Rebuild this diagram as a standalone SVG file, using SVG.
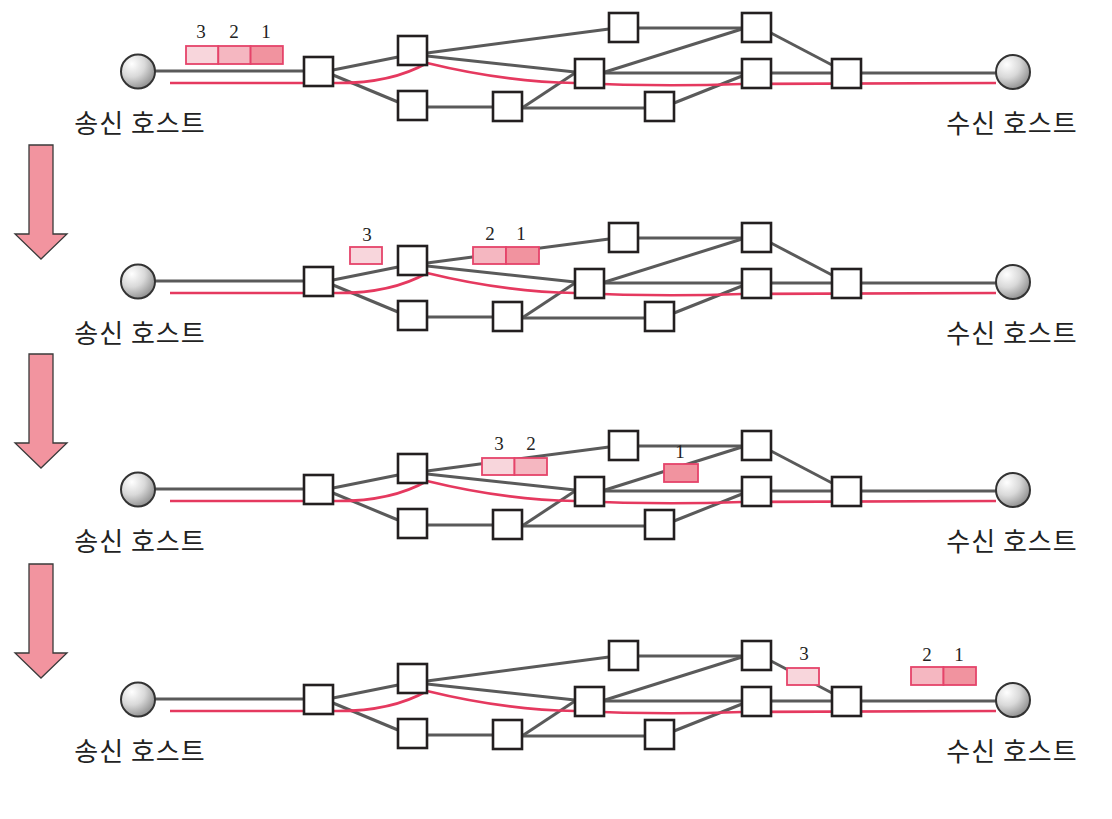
<svg xmlns="http://www.w3.org/2000/svg" width="1112" height="819" viewBox="0 0 1112 819">
<defs>
<radialGradient id="hostGrad" cx="0.32" cy="0.28" r="0.85">
<stop offset="0" stop-color="#ffffff"/>
<stop offset="0.45" stop-color="#d9d9d9"/>
<stop offset="1" stop-color="#808080"/>
</radialGradient>
<style>
.edge{fill:none;stroke:#5a5a5a;stroke-width:3;stroke-linecap:butt}
.path{fill:none;stroke:#e5395f;stroke-width:2.6}
.node{fill:#ffffff;stroke:#231f20;stroke-width:2.6}
.host{fill:url(#hostGrad);stroke:#333333;stroke-width:2}
.pk{stroke:#e5446a;stroke-width:1.8}
.p3{fill:#f8d6dc}
.p2{fill:#f5b7c1}
.p1{fill:#f1939f}
.num{font-family:"Liberation Serif","Noto Sans",serif;font-size:19px;fill:#222;text-anchor:middle}
.lbl{font-family:"Noto Sans CJK KR","Noto Sans",sans-serif;font-size:26px;letter-spacing:1px;fill:#222;text-anchor:middle}
.arrow{fill:#f2949f;stroke:#3a3a3a;stroke-width:1.3;stroke-linejoin:miter}
</style>
</defs>
<rect width="1112" height="819" fill="#ffffff"/>

<!-- arrows -->
<g id="arrows">
<path class="arrow" d="M29,145 H53 V234 H67 L41,259 L15,234 H29 Z"/>
<path class="arrow" d="M29,354 H53 V443 H67 L41,468 L15,443 H29 Z"/>
<path class="arrow" d="M29,564 H53 V653 H67 L41,678 L15,653 H29 Z"/>
</g>

<!-- PANEL 1 -->
<g id="panel1">
<g id="p1-connectors">
<path class="edge" d="M155,71 H304"/>
<path class="edge" d="M333,70 L398,57"/>
<path class="edge" d="M333,75 L398,102"/>
<path class="edge" d="M427,53 L609,29"/>
<path class="edge" d="M427,56 L575,72"/>
<path class="edge" d="M427,107 H493"/>
<path class="edge" d="M522,108 L578,71"/>
<path class="edge" d="M523,108 H645"/>
<path class="edge" d="M639,28 H742"/>
<path class="edge" d="M605,72 L742,29"/>
<path class="edge" d="M605,73 H742"/>
<path class="edge" d="M674,103 L742,76"/>
<path class="edge" d="M771,33 L832,65"/>
<path class="edge" d="M771,73 H832"/>
<path class="edge" d="M861,73 H996"/>
<path class="path" d="M170,83 H333 Q390,84 427,63 Q505,82 575,83 Q660,87 742,84 L996,83"/>
</g>
<g id="p1-hostL"><circle class="host" cx="138" cy="71.5" r="17"/><text class="lbl" x="140" y="133">송신 호스트</text></g>
<g id="p1-hostR"><circle class="host" cx="1013" cy="72" r="17"/><text class="lbl" x="1012" y="133">수신 호스트</text></g>
<g id="p1-A"><rect class="node" x="304" y="57" width="29" height="29"/></g>
<g id="p1-B"><rect class="node" x="398" y="36" width="29" height="29"/></g>
<g id="p1-C"><rect class="node" x="398" y="91" width="29" height="29"/></g>
<g id="p1-D"><rect class="node" x="609" y="13" width="29" height="29"/></g>
<g id="p1-E"><rect class="node" x="742" y="13" width="29" height="29"/></g>
<g id="p1-F"><rect class="node" x="575" y="59" width="29" height="29"/></g>
<g id="p1-G"><rect class="node" x="742" y="59" width="29" height="29"/></g>
<g id="p1-H"><rect class="node" x="493" y="92" width="29" height="29"/></g>
<g id="p1-I"><rect class="node" x="645" y="92" width="29" height="29"/></g>
<g id="p1-J"><rect class="node" x="832" y="59" width="29" height="29"/></g>
<g id="p1-packets">
<rect class="pk p3" x="186" y="46" width="32.3" height="18"/>
<rect class="pk p2" x="218.3" y="46" width="32.3" height="18"/>
<rect class="pk p1" x="250.6" y="46" width="32.3" height="18"/>
<text class="num" x="201" y="38">3</text>
<text class="num" x="234" y="38">2</text>
<text class="num" x="266" y="38">1</text>
</g>
</g>

<!-- PANEL 2 -->
<g id="panel2" transform="translate(0,210)">
<g id="p2-connectors">
<path class="edge" d="M155,71 H304"/>
<path class="edge" d="M333,70 L398,57"/>
<path class="edge" d="M333,75 L398,102"/>
<path class="edge" d="M427,53 L609,29"/>
<path class="edge" d="M427,56 L575,72"/>
<path class="edge" d="M427,107 H493"/>
<path class="edge" d="M522,108 L578,71"/>
<path class="edge" d="M523,108 H645"/>
<path class="edge" d="M639,28 H742"/>
<path class="edge" d="M605,72 L742,29"/>
<path class="edge" d="M605,73 H742"/>
<path class="edge" d="M674,103 L742,76"/>
<path class="edge" d="M771,33 L832,65"/>
<path class="edge" d="M771,73 H832"/>
<path class="edge" d="M861,73 H996"/>
<path class="path" d="M170,83 H333 Q390,84 427,63 Q505,82 575,83 Q660,87 742,84 L996,83"/>
</g>
<g id="p2-hostL"><circle class="host" cx="138" cy="71.5" r="17"/><text class="lbl" x="140" y="133">송신 호스트</text></g>
<g id="p2-hostR"><circle class="host" cx="1013" cy="72" r="17"/><text class="lbl" x="1012" y="133">수신 호스트</text></g>
<g id="p2-A"><rect class="node" x="304" y="57" width="29" height="29"/></g>
<g id="p2-B"><rect class="node" x="398" y="36" width="29" height="29"/></g>
<g id="p2-C"><rect class="node" x="398" y="91" width="29" height="29"/></g>
<g id="p2-D"><rect class="node" x="609" y="13" width="29" height="29"/></g>
<g id="p2-E"><rect class="node" x="742" y="13" width="29" height="29"/></g>
<g id="p2-F"><rect class="node" x="575" y="59" width="29" height="29"/></g>
<g id="p2-G"><rect class="node" x="742" y="59" width="29" height="29"/></g>
<g id="p2-H"><rect class="node" x="493" y="92" width="29" height="29"/></g>
<g id="p2-I"><rect class="node" x="645" y="92" width="29" height="29"/></g>
<g id="p2-J"><rect class="node" x="832" y="59" width="29" height="29"/></g>
<g id="p2-packets">
<rect class="pk p3" x="350" y="37" width="32" height="17"/>
<rect class="pk p2" x="473" y="37" width="33" height="17"/>
<rect class="pk p1" x="506" y="37" width="33" height="17"/>
<text class="num" x="367" y="31">3</text>
<text class="num" x="490" y="30">2</text>
<text class="num" x="521" y="30">1</text>
</g>
</g>

<!-- PANEL 3 -->
<g id="panel3" transform="translate(0,418)">
<g id="p3-connectors">
<path class="edge" d="M155,71 H304"/>
<path class="edge" d="M333,70 L398,57"/>
<path class="edge" d="M333,75 L398,102"/>
<path class="edge" d="M427,53 L609,29"/>
<path class="edge" d="M427,56 L575,72"/>
<path class="edge" d="M427,107 H493"/>
<path class="edge" d="M522,108 L578,71"/>
<path class="edge" d="M523,108 H645"/>
<path class="edge" d="M639,28 H742"/>
<path class="edge" d="M605,72 L742,29"/>
<path class="edge" d="M605,73 H742"/>
<path class="edge" d="M674,103 L742,76"/>
<path class="edge" d="M771,33 L832,65"/>
<path class="edge" d="M771,73 H832"/>
<path class="edge" d="M861,73 H996"/>
<path class="path" d="M170,83 H333 Q390,84 427,63 Q505,82 575,83 Q660,87 742,84 L996,83"/>
</g>
<g id="p3-hostL"><circle class="host" cx="138" cy="71.5" r="17"/><text class="lbl" x="140" y="133">송신 호스트</text></g>
<g id="p3-hostR"><circle class="host" cx="1013" cy="72" r="17"/><text class="lbl" x="1012" y="133">수신 호스트</text></g>
<g id="p3-A"><rect class="node" x="304" y="57" width="29" height="29"/></g>
<g id="p3-B"><rect class="node" x="398" y="36" width="29" height="29"/></g>
<g id="p3-C"><rect class="node" x="398" y="91" width="29" height="29"/></g>
<g id="p3-D"><rect class="node" x="609" y="13" width="29" height="29"/></g>
<g id="p3-E"><rect class="node" x="742" y="13" width="29" height="29"/></g>
<g id="p3-F"><rect class="node" x="575" y="59" width="29" height="29"/></g>
<g id="p3-G"><rect class="node" x="742" y="59" width="29" height="29"/></g>
<g id="p3-H"><rect class="node" x="493" y="92" width="29" height="29"/></g>
<g id="p3-I"><rect class="node" x="645" y="92" width="29" height="29"/></g>
<g id="p3-J"><rect class="node" x="832" y="59" width="29" height="29"/></g>
<g id="p3-packets">
<rect class="pk p3" x="482" y="40" width="32.5" height="17"/>
<rect class="pk p2" x="514.5" y="40" width="32.5" height="17"/>
<rect class="pk p1" x="664" y="46" width="34" height="18"/>
<text class="num" x="499" y="32">3</text>
<text class="num" x="531" y="32">2</text>
<text class="num" x="680" y="40">1</text>
</g>
</g>

<!-- PANEL 4 -->
<g id="panel4" transform="translate(0,628)">
<g id="p4-connectors">
<path class="edge" d="M155,71 H304"/>
<path class="edge" d="M333,70 L398,57"/>
<path class="edge" d="M333,75 L398,102"/>
<path class="edge" d="M427,53 L609,29"/>
<path class="edge" d="M427,56 L575,72"/>
<path class="edge" d="M427,107 H493"/>
<path class="edge" d="M522,108 L578,71"/>
<path class="edge" d="M523,108 H645"/>
<path class="edge" d="M639,28 H742"/>
<path class="edge" d="M605,72 L742,29"/>
<path class="edge" d="M605,73 H742"/>
<path class="edge" d="M674,103 L742,76"/>
<path class="edge" d="M771,33 L832,65"/>
<path class="edge" d="M771,73 H832"/>
<path class="edge" d="M861,73 H996"/>
<path class="path" d="M170,83 H333 Q390,84 427,63 Q505,82 575,83 Q660,87 742,84 L996,83"/>
</g>
<g id="p4-hostL"><circle class="host" cx="138" cy="71.5" r="17"/><text class="lbl" x="140" y="133">송신 호스트</text></g>
<g id="p4-hostR"><circle class="host" cx="1013" cy="72" r="17"/><text class="lbl" x="1012" y="133">수신 호스트</text></g>
<g id="p4-A"><rect class="node" x="304" y="57" width="29" height="29"/></g>
<g id="p4-B"><rect class="node" x="398" y="36" width="29" height="29"/></g>
<g id="p4-C"><rect class="node" x="398" y="91" width="29" height="29"/></g>
<g id="p4-D"><rect class="node" x="609" y="13" width="29" height="29"/></g>
<g id="p4-E"><rect class="node" x="742" y="13" width="29" height="29"/></g>
<g id="p4-F"><rect class="node" x="575" y="59" width="29" height="29"/></g>
<g id="p4-G"><rect class="node" x="742" y="59" width="29" height="29"/></g>
<g id="p4-H"><rect class="node" x="493" y="92" width="29" height="29"/></g>
<g id="p4-I"><rect class="node" x="645" y="92" width="29" height="29"/></g>
<g id="p4-J"><rect class="node" x="832" y="59" width="29" height="29"/></g>
<g id="p4-packets">
<rect class="pk p3" x="787" y="40" width="32" height="17"/>
<rect class="pk p2" x="911" y="39" width="32.5" height="18"/>
<rect class="pk p1" x="943.5" y="39" width="32.5" height="18"/>
<text class="num" x="804" y="32">3</text>
<text class="num" x="927" y="33">2</text>
<text class="num" x="959" y="33">1</text>
</g>
</g>
</svg>
